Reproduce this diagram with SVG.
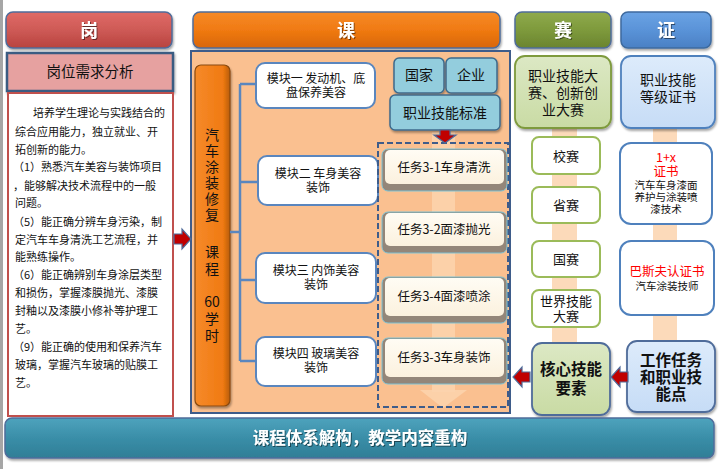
<svg xmlns="http://www.w3.org/2000/svg" width="723" height="469" viewBox="0 0 723 469">
<defs>
<style>
text{font-family:"Noto Sans CJK SC","Noto Sans",sans-serif;}
.hd{font-size:18px;font-weight:bold;fill:#fff;text-anchor:middle;}
.t11{font-size:11px;fill:#111;}
.t12{font-size:12px;fill:#111;text-anchor:middle;}
.t14{font-size:14px;fill:#111;text-anchor:middle;}
.vt{font-size:14px;fill:#111;text-anchor:middle;}
.red{fill:#FF0000;}
.bold{font-weight:bold;font-size:15.5px;fill:#111;text-anchor:middle;}
.mod{fill:#fff;stroke:#5A86BE;stroke-width:2;}
.blu{fill:#93CDDD;stroke:#3E6A8C;stroke-width:1.5;}
.sai{fill:#fff;stroke:#9BBB59;stroke-width:2;}
.zh{fill:#fff;stroke:#4F81BD;stroke-width:2;}
.arr{fill:#C00000;stroke:#4F6C9A;stroke-width:1.2;}
.ln{stroke:#5A86BE;stroke-width:2.5;fill:none;}
.band{fill:#FCD4AE;opacity:0.85;}
</style>
<linearGradient id="gRed" x1="0" y1="0" x2="0" y2="1"><stop offset="0" stop-color="#E06A66"/><stop offset="0.5" stop-color="#CE5A56"/><stop offset="1" stop-color="#B8433F"/></linearGradient>
<linearGradient id="gOr" x1="0" y1="0" x2="0" y2="1"><stop offset="0" stop-color="#F68A2A"/><stop offset="0.5" stop-color="#F07A12"/><stop offset="1" stop-color="#D8660A"/></linearGradient>
<linearGradient id="gOrV" x1="0" y1="0" x2="1" y2="0"><stop offset="0" stop-color="#F68A2A"/><stop offset="0.8" stop-color="#F07A12"/><stop offset="1" stop-color="#B85C0C"/></linearGradient>
<linearGradient id="gGr" x1="0" y1="0" x2="0" y2="1"><stop offset="0" stop-color="#8FAA4C"/><stop offset="0.5" stop-color="#7E9A3C"/><stop offset="1" stop-color="#6A8430"/></linearGradient>
<linearGradient id="gBl" x1="0" y1="0" x2="0" y2="1"><stop offset="0" stop-color="#6BA3E4"/><stop offset="0.5" stop-color="#5A93D8"/><stop offset="1" stop-color="#4A80C4"/></linearGradient>
<linearGradient id="gTeal" x1="0" y1="0" x2="0" y2="1"><stop offset="0" stop-color="#4EA3BD"/><stop offset="0.5" stop-color="#3A8EA8"/><stop offset="1" stop-color="#2F7E96"/></linearGradient>
<linearGradient id="gLg" x1="0" y1="0" x2="0" y2="1"><stop offset="0" stop-color="#DCE8C4"/><stop offset="1" stop-color="#C9DBA4"/></linearGradient>
<linearGradient id="gLb" x1="0" y1="0" x2="0" y2="1"><stop offset="0" stop-color="#DDEBFB"/><stop offset="1" stop-color="#C6DCF6"/></linearGradient>
<linearGradient id="gTask" x1="0" y1="0" x2="0" y2="1"><stop offset="0" stop-color="#FFFCF4"/><stop offset="1" stop-color="#FBF1DE"/></linearGradient>
<filter id="sh" x="-10%" y="-10%" width="120%" height="130%"><feDropShadow dx="1" dy="2" stdDeviation="1.2" flood-color="#000" flood-opacity="0.35"/></filter>
<filter id="ts" x="-10%" y="-10%" width="120%" height="130%"><feDropShadow dx="1" dy="1" stdDeviation="0.6" flood-color="#000" flood-opacity="0.5"/></filter>
</defs>

<rect x="0" y="0" width="723" height="469" fill="#fff"/>
<rect x="0" y="0" width="3" height="469" fill="#A6A6A6"/>

<!-- headers -->
<g id="hdr-gang"><rect x="6" y="12" width="166" height="36" rx="7" fill="url(#gRed)" stroke="#4F6C9A" stroke-width="1.5" filter="url(#sh)"/><text class="hd" x="89" y="37" filter="url(#ts)">岗</text></g>
<g id="hdr-ke"><rect x="193" y="12" width="307" height="36" rx="7" fill="url(#gOr)" stroke="#4F6C9A" stroke-width="1.5" filter="url(#sh)"/><text class="hd" x="346" y="37" filter="url(#ts)">课</text></g>
<g id="hdr-sai"><rect x="515" y="12" width="96" height="36" rx="7" fill="url(#gGr)" stroke="#4F6C9A" stroke-width="1.5" filter="url(#sh)"/><text class="hd" x="563" y="37" filter="url(#ts)">赛</text></g>
<g id="hdr-zheng"><rect x="621" y="12" width="90" height="36" rx="7" fill="url(#gBl)" stroke="#3E6A9E" stroke-width="1.5" filter="url(#sh)"/><text class="hd" x="666" y="37" filter="url(#ts)">证</text></g>

<!-- left column -->
<g id="gwxq"><rect x="7" y="53" width="166" height="38" fill="#E6A1A0" stroke="#3B5B82" stroke-width="2.5" filter="url(#sh)"/><text class="t14" x="90" y="77" style="font-size:14.5px">岗位需求分析</text></g>
<g id="left-text"><rect x="8" y="93" width="165" height="323" fill="#fff" stroke="#C0504D" stroke-width="2"/>
<text class="t11"><tspan x="33" y="117">培养学生理论与实践结合的</tspan><tspan x="15" y="136">综合应用能力，独立就业、开</tspan><tspan x="15" y="154">拓创新的能力。</tspan><tspan x="13" y="171">（1）熟悉汽车美容与装饰项目</tspan><tspan x="13" y="190">，能够解决技术流程中的一般</tspan><tspan x="15" y="207">问题。</tspan><tspan x="13" y="226">（5）能正确分辨车身污染，制</tspan><tspan x="15" y="244">定汽车车身清洗工艺流程，并</tspan><tspan x="15" y="261">能熟练操作。</tspan><tspan x="13" y="279">（6）能正确辨别车身涂层类型</tspan><tspan x="15" y="297">和损伤，掌握漆膜抛光、漆膜</tspan><tspan x="15" y="315">封釉以及漆膜小修补等护理工</tspan><tspan x="15" y="333">艺。</tspan><tspan x="13" y="351">（9）能正确的使用和保养汽车</tspan><tspan x="15" y="369">玻璃，掌握汽车玻璃的贴膜工</tspan><tspan x="15" y="387">艺。</tspan></text></g>

<!-- course panel -->
<g id="panel"><rect x="191" y="51" width="319" height="362" fill="#FAC090" stroke="#3E5C8A" stroke-width="2"/></g>
<g id="band-task"><rect class="band" x="432" y="132" width="23" height="260"/><polygon class="band" points="420,390 467,390 443,408"/></g>

<g id="course-bar"><rect x="195" y="65" width="35" height="341" rx="6" fill="url(#gOrV)" stroke="#8A4A10" stroke-width="1.2" filter="url(#sh)"/>
<text class="vt"><tspan x="212" y="140">汽</tspan><tspan x="212" y="156">车</tspan><tspan x="212" y="172">涂</tspan><tspan x="212" y="188">装</tspan><tspan x="212" y="204">修</tspan><tspan x="212" y="220">复</tspan><tspan x="212" y="257">课</tspan><tspan x="212" y="274">程</tspan><tspan x="212" y="307">60</tspan><tspan x="212" y="324">学</tspan><tspan x="212" y="341">时</tspan></text></g>

<g id="mod1"><rect class="mod" x="256" y="63" width="119" height="45" rx="9"/><text class="t12"><tspan x="316" y="83">模块一 发动机、底</tspan><tspan x="316" y="97">盘保养美容</tspan></text></g>
<g id="mod2"><rect class="mod" x="258" y="156" width="120" height="49" rx="9"/><text class="t12"><tspan x="318" y="178">模块二 车身美容</tspan><tspan x="318" y="192">装饰</tspan></text></g>
<g id="mod3"><rect class="mod" x="256" y="253" width="120" height="50" rx="9"/><text class="t12"><tspan x="316" y="275">模块三 内饰美容</tspan><tspan x="316" y="289">装饰</tspan></text></g>
<g id="mod4"><rect class="mod" x="256" y="337" width="120" height="49" rx="9"/><text class="t12"><tspan x="316" y="358">模块四 玻璃美容</tspan><tspan x="316" y="372">装饰</tspan></text></g>

<g id="guojia"><rect class="blu" x="394" y="58" width="50" height="35" rx="5" filter="url(#sh)"/><text class="t14" x="419" y="80">国家</text></g>
<g id="qiye"><rect class="blu" x="446" y="58" width="51" height="35" rx="5" filter="url(#sh)"/><text class="t14" x="471" y="80">企业</text></g>
<g id="biaozhun"><rect class="blu" x="390" y="95" width="110" height="35" rx="5" filter="url(#sh)"/><text class="t14" x="445" y="118">职业技能标准</text></g>

<rect x="378" y="143" width="130" height="264" fill="none" stroke="#3E5C8A" stroke-width="2" stroke-dasharray="6,3"/>

<g id="task1"><rect x="382" y="149" width="125" height="42" rx="6" fill="#938679" stroke="#7CC3D6" stroke-width="1"/><rect x="385" y="150" width="119" height="34" rx="5" fill="url(#gTask)"/><text class="t12" x="444" y="172" style="font-size:12.5px">任务3-1车身清洗</text></g>
<g id="task2"><rect x="382" y="212" width="125" height="41" rx="6" fill="#938679" stroke="#7CC3D6" stroke-width="1"/><rect x="385" y="213" width="119" height="33" rx="5" fill="url(#gTask)"/><text class="t12" x="444" y="234" style="font-size:12.5px">任务3-2面漆抛光</text></g>
<g id="task4"><rect x="382" y="277" width="125" height="46" rx="6" fill="#938679" stroke="#7CC3D6" stroke-width="1"/><rect x="385" y="278" width="119" height="38" rx="5" fill="url(#gTask)"/><text class="t12" x="444" y="301" style="font-size:12.5px">任务3-4面漆喷涂</text></g>
<g id="task3"><rect x="382" y="338" width="125" height="46" rx="6" fill="#938679" stroke="#7CC3D6" stroke-width="1"/><rect x="385" y="339" width="119" height="38" rx="5" fill="url(#gTask)"/><text class="t12" x="444" y="362" style="font-size:12.5px">任务3-3车身装饰</text></g>

<!-- sai column -->
<g id="band-sai"><rect class="band" x="552" y="128" width="25" height="216"/></g>
<g id="band-zheng"><rect class="band" x="653" y="128" width="24" height="214"/></g>
<g id="sai-main"><rect x="515" y="56" width="96" height="72" rx="10" fill="url(#gLg)" stroke="#7E9A3C" stroke-width="1.8" filter="url(#sh)"/><text class="t14"><tspan x="563" y="81">职业技能大</tspan><tspan x="563" y="98">赛、创新创</tspan><tspan x="563" y="115">业大赛</tspan></text></g>
<g id="xiaosai"><rect class="sai" x="532" y="137" width="68" height="37" rx="7"/><text class="t12" x="566" y="161" style="font-size:13px">校赛</text></g>
<g id="shengsai"><rect class="sai" x="532" y="187" width="68" height="36" rx="7"/><text class="t12" x="566" y="210" style="font-size:13px">省赛</text></g>
<g id="guosai"><rect class="sai" x="532" y="241" width="68" height="36" rx="7"/><text class="t12" x="566" y="264" style="font-size:13px">国赛</text></g>
<g id="shijie"><rect class="sai" x="532" y="290" width="68" height="37" rx="7"/><text class="t12" style="font-size:13px"><tspan x="566" y="306">世界技能</tspan><tspan x="566" y="321">大赛</tspan></text></g>
<g id="hexin"><rect x="532" y="343" width="78" height="72" rx="10" fill="url(#gLg)" stroke="#4F6C9A" stroke-width="1.8" filter="url(#sh)"/><text class="bold"><tspan x="571" y="375">核心技能</tspan><tspan x="571" y="394">要素</tspan></text></g>

<!-- zheng column -->
<g id="zheng-main"><rect x="621" y="56" width="94" height="72" rx="10" fill="url(#gLb)" stroke="#4F81BD" stroke-width="1.8" filter="url(#sh)"/><text class="t14"><tspan x="668" y="85">职业技能</tspan><tspan x="668" y="102">等级证书</tspan></text></g>
<g id="onex"><rect class="zh" x="620" y="143" width="92" height="81" rx="11"/><text class="t12"><tspan class="red" x="666" y="162" style="font-size:12.5px">1+x</tspan><tspan class="red" x="666" y="176" style="font-size:12.5px">证书</tspan><tspan x="666" y="189" style="font-size:10.5px">汽车车身漆面</tspan><tspan x="666" y="201" style="font-size:10.5px">养护与涂装喷</tspan><tspan x="666" y="213" style="font-size:10.5px">漆技术</tspan></text></g>
<g id="basf"><rect class="zh" x="620" y="241" width="94" height="74" rx="11"/><text class="t12"><tspan class="red" x="667" y="276" style="font-size:12.5px">巴斯夫认证书</tspan><tspan x="667" y="290" style="font-size:10.5px">汽车涂装技师</tspan></text></g>
<g id="gongzuo"><rect x="627" y="341" width="88" height="71" rx="10" fill="url(#gLb)" stroke="#4F6C9A" stroke-width="1.8" filter="url(#sh)"/><text class="bold"><tspan x="671" y="366">工作任务</tspan><tspan x="671" y="383">和职业技</tspan><tspan x="671" y="400">能点</tspan></text></g>

<!-- bottom -->
<g id="bottom"><rect x="5" y="418" width="709" height="40" rx="7" fill="url(#gTeal)" stroke="#4F6C9A" stroke-width="1.5" filter="url(#sh)"/><text x="360" y="444" style="font-size:16.5px;font-weight:bold;fill:#fff;text-anchor:middle" filter="url(#ts)">课程体系解构，教学内容重构</text></g>

<!-- connectors -->
<g id="connectors">
<path class="ln" d="M230,232 H240 M240,84 V361 M240,84 H256 M240,182 H258 M240,280 H256 M240,361 H256"/>
<polygon class="arr" points="174,234 182,234 182,229 191,239 182,249 182,244 174,244"/>
<polygon class="arr" points="440,130 450,130 450,135 456,135 445,143 434,135 440,135"/>
<polygon class="arr" points="530,372 522,372 522,367 513,377 522,387 522,382 530,382"/>
<polygon class="arr" points="628,372 620,372 620,367 611,377 620,387 620,382 628,382"/>
</g>
</svg>
